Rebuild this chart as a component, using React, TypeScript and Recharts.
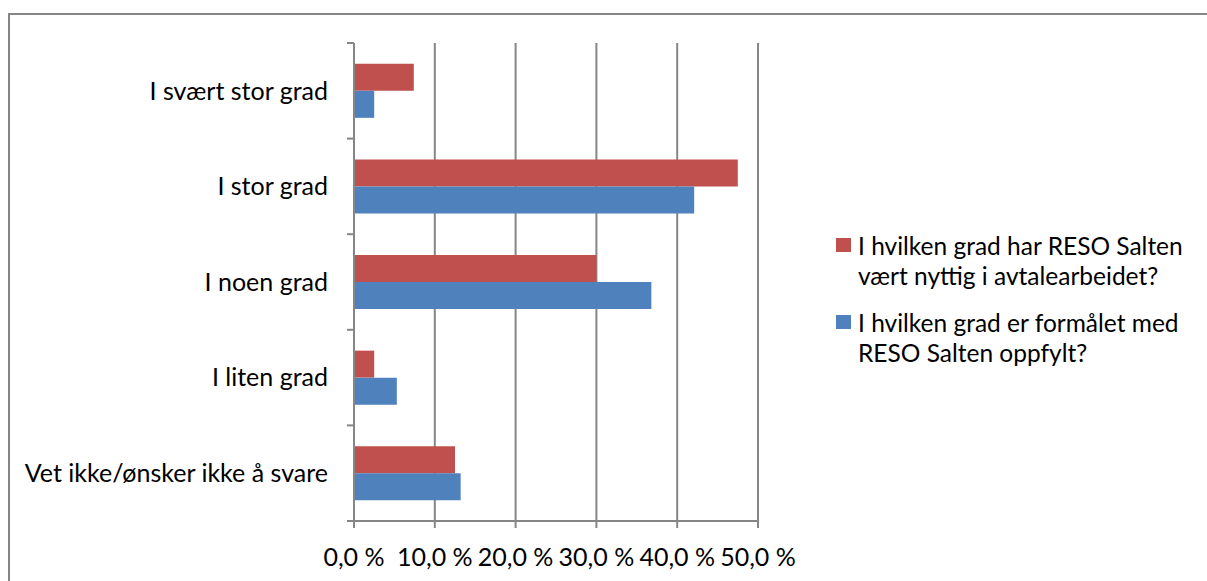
import React from 'react';
import { BarChart, Bar, XAxis, YAxis, CartesianGrid, Legend } from 'recharts';

const categories = [
  'I svært stor grad',
  'I stor grad',
  'I noen grad',
  'I liten grad',
  'Vet ikke/ønsker ikke å svare',
];
const nyttigValues = [7.4, 47.5, 30.0, 2.5, 12.5];
const oppfyltValues = [2.5, 42.1, 36.8, 5.3, 13.2];
const seriesNames = [
  'I hvilken grad har RESO Salten vært nyttig i avtalearbeidet?',
  'I hvilken grad er formålet med RESO Salten oppfylt?',
];
const seriesColors = ['#C0504D', '#4F81BD'];
const xTicks = [0, 10, 20, 30, 40, 50];

const data = categories.map((category, i) => ({
  category,
  nyttig: nyttigValues[i],
  oppfylt: oppfyltValues[i],
}));

const CHART_W = 1197;
const CHART_H = 566;
const PLOT_TOP = 28;
const PLOT_LEFT = 344;
const X_AXIS_H = 60;
const PLOT_BOTTOM = CHART_H - X_AXIS_H;
const BAND = (PLOT_BOTTOM - PLOT_TOP) / categories.length;
const AXIS_COLOR = '#868686';
const FONT = 'Lato, "Open Sans", sans-serif';
const FONT_SIZE = 25;

const CategoryTick = (props: any) => {
  const { x, y, payload, index } = props;
  return (
    <g>
      <text x={x} y={y} dy="0.355em" textAnchor="end" fill="#000" fontSize={FONT_SIZE} fontFamily={FONT}>
        {payload.value}
      </text>
      <line x1={PLOT_LEFT - 7} x2={PLOT_LEFT} y1={y - BAND / 2} y2={y - BAND / 2} stroke={AXIS_COLOR} strokeWidth={2} />
      {index === categories.length - 1 && (
        <line x1={PLOT_LEFT - 7} x2={PLOT_LEFT} y1={y + BAND / 2} y2={y + BAND / 2} stroke={AXIS_COLOR} strokeWidth={2} />
      )}
    </g>
  );
};

const LegendContent = () => (
  <div style={{ fontFamily: FONT, fontSize: 24.5, lineHeight: '30px', color: '#000' }}>
    {seriesNames.map((name, i) => (
      <div key={name} style={{ display: 'flex', alignItems: 'flex-start', marginTop: i === 0 ? 0 : 17 }}>
        <div style={{ width: 15, height: 14, marginTop: 7, marginRight: 7, flexShrink: 0, background: seriesColors[i] }} />
        <div style={{ width: 338 }}>{name}</div>
      </div>
    ))}
  </div>
);

export default function App() {
  return (
    <div
      style={{
        position: 'fixed',
        left: 8,
        top: 13,
        width: CHART_W,
        height: CHART_H,
        borderLeft: `2px solid ${AXIS_COLOR}`,
        borderTop: `2px solid ${AXIS_COLOR}`,
        background: '#fff',
      }}
    >
      <BarChart
        layout="vertical"
        width={CHART_W}
        height={CHART_H}
        data={data}
        margin={{ top: PLOT_TOP, right: 89, bottom: 0, left: 0 }}
        barCategoryGap="21.8%"
        barGap={0}
      >
        <CartesianGrid horizontal={false} stroke={AXIS_COLOR} strokeWidth={2} />
        <XAxis
          type="number"
          domain={[0, 50]}
          ticks={xTicks}
          height={X_AXIS_H}
          tickSize={7}
          tickMargin={20}
          stroke={AXIS_COLOR}
          strokeWidth={2}
          tick={{ fill: '#000', fontSize: FONT_SIZE, fontFamily: FONT }}
          tickFormatter={(v: number) => `${v.toFixed(1).replace('.', ',')} %`}
        />
        <YAxis
          type="category"
          dataKey="category"
          width={PLOT_LEFT}
          tickLine={false}
          tickSize={7}
          tickMargin={19}
          stroke={AXIS_COLOR}
          strokeWidth={2}
          tick={<CategoryTick />}
          interval={0}
        />
        <Legend
          layout="vertical"
          align="right"
          verticalAlign="middle"
          content={<LegendContent />}
          wrapperStyle={{ left: 826, top: 216, width: 360 }}
        />
        <Bar dataKey="nyttig" name={seriesNames[0]} fill={seriesColors[0]} isAnimationActive={false} />
        <Bar dataKey="oppfylt" name={seriesNames[1]} fill={seriesColors[1]} isAnimationActive={false} />
      </BarChart>
    </div>
  );
}
